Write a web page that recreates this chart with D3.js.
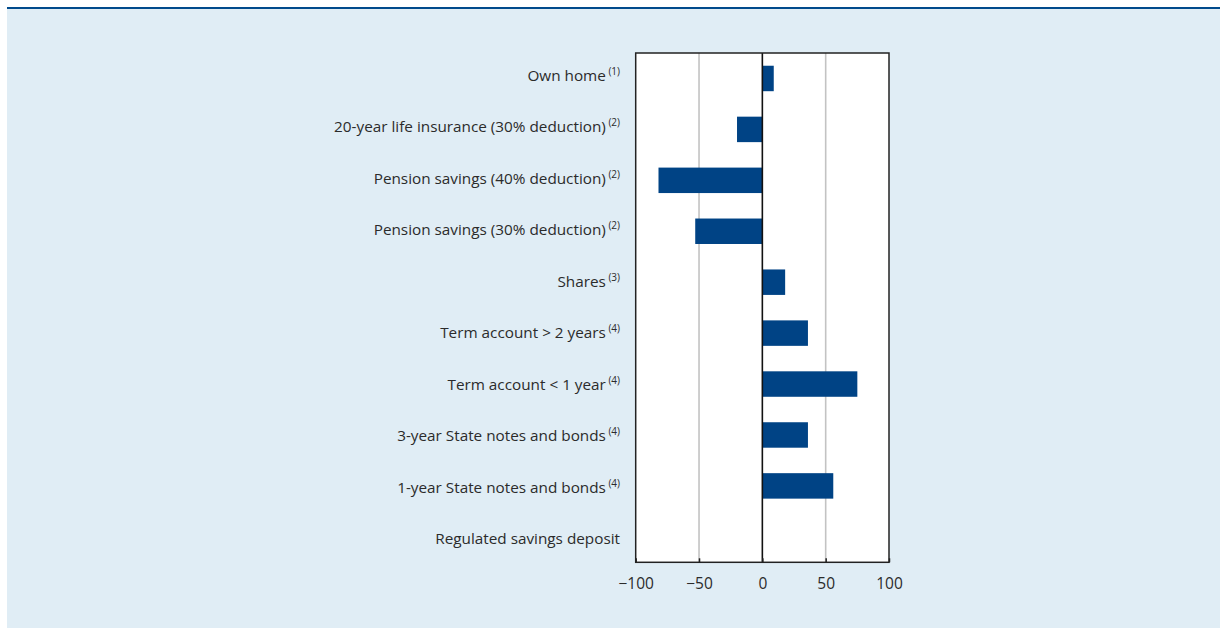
<!DOCTYPE html>
<html>
<head>
<meta charset="utf-8">
<script src="https://cdn.jsdelivr.net/npm/d3@7"></script>
<style>
  html, body { margin: 0; padding: 0; background: #ffffff; }
  svg { display: block; }
  text { font-family: "Open Sans", "Noto Sans", sans-serif; fill: #2b2b2b; }
</style>
</head>
<body>
<svg id="chart" width="1220" height="628"></svg>
<script>
// ---- data ----
const categories = [
  "Own home",
  "20-year life insurance (30% deduction)",
  "Pension savings (40% deduction)",
  "Pension savings (30% deduction)",
  "Shares",
  "Term account > 2 years",
  "Term account < 1 year",
  "3-year State notes and bonds",
  "1-year State notes and bonds",
  "Regulated savings deposit"
];
const notes = ["(1)", "(2)", "(2)", "(2)", "(3)", "(4)", "(4)", "(4)", "(4)", ""];
const values = [9, -20, -82, -53, 18, 36, 75, 36, 56, 0];
const xDomain = [-100, 100];
const xTicks = [-100, -50, 0, 50, 100];
const gridValues = [-50, 50];

// ---- layout ----
const svg = d3.select("#chart");
const W = 1220, H = 628;
const plot = { left: 635.7, right: 889, top: 53, bottom: 562.3 };

// background panel and top rule
svg.append("rect").attr("x", 7).attr("y", 7).attr("width", W - 7).attr("height", H - 7)
  .attr("fill", "#e0edf5");
svg.append("rect").attr("x", 7).attr("y", 7).attr("width", W - 7).attr("height", 2)
  .attr("fill", "#004a8c");

const x = d3.scaleLinear().domain(xDomain).range([plot.left, plot.right]);
const y = d3.scaleBand().domain(categories).range([plot.top, plot.bottom]).paddingInner(0.5).paddingOuter(0.25);
const yLabel = d3.scalePoint().domain(categories).range([81, 544]);

// plot area
svg.append("rect").attr("x", plot.left).attr("y", plot.top)
  .attr("width", plot.right - plot.left).attr("height", plot.bottom - plot.top)
  .attr("fill", "#ffffff");

// grid lines
svg.append("g").selectAll("line").data(gridValues).join("line")
  .attr("x1", d => x(d)).attr("x2", d => x(d))
  .attr("y1", plot.top).attr("y2", plot.bottom)
  .attr("stroke", "#c3c3c3").attr("stroke-width", 1.6);

// bars
svg.append("g").selectAll("rect").data(values).join("rect")
  .attr("x", d => Math.min(x(0), x(d)))
  .attr("width", d => Math.abs(x(d) - x(0)))
  .attr("y", (d, i) => y(categories[i]))
  .attr("height", y.bandwidth())
  .attr("fill", "#004385");

// zero line
svg.append("line")
  .attr("x1", x(0)).attr("x2", x(0)).attr("y1", plot.top).attr("y2", plot.bottom)
  .attr("stroke", "#111").attr("stroke-width", 1.6);

// frame
svg.append("rect").attr("x", plot.left).attr("y", plot.top)
  .attr("width", plot.right - plot.left).attr("height", plot.bottom - plot.top)
  .attr("fill", "none").attr("stroke", "#222").attr("stroke-width", 1.5);

// x axis
const xAxis = d3.axisBottom(x).tickValues(xTicks).tickSizeInner(-4).tickSizeOuter(0)
  .tickPadding(16).tickFormat(d => d < 0 ? "\u2212" + Math.abs(d) : d);
const gx = svg.append("g").attr("transform", `translate(0,${plot.bottom})`).call(xAxis);
gx.select(".domain").remove();
gx.selectAll(".tick line").attr("stroke", "#222").attr("stroke-width", 1.5);
gx.selectAll(".tick text").attr("font-size", 15.5).attr("fill", "#2b2b2b")
  .attr("font-family", "'Open Sans', sans-serif");

// category labels
const labels = svg.append("g").selectAll("text").data(categories).join("text")
  .attr("x", 620)
  .attr("y", d => yLabel(d))
  .attr("text-anchor", "end")
  .attr("font-size", 15.3);
labels.append("tspan").text(d => d);
labels.filter((d, i) => notes[i] !== "").append("tspan")
  .attr("dx", 2.5).attr("dy", -6).attr("font-size", 10)
  .text((d, i) => notes[categories.indexOf(d)]);
</script>
</body>
</html>
